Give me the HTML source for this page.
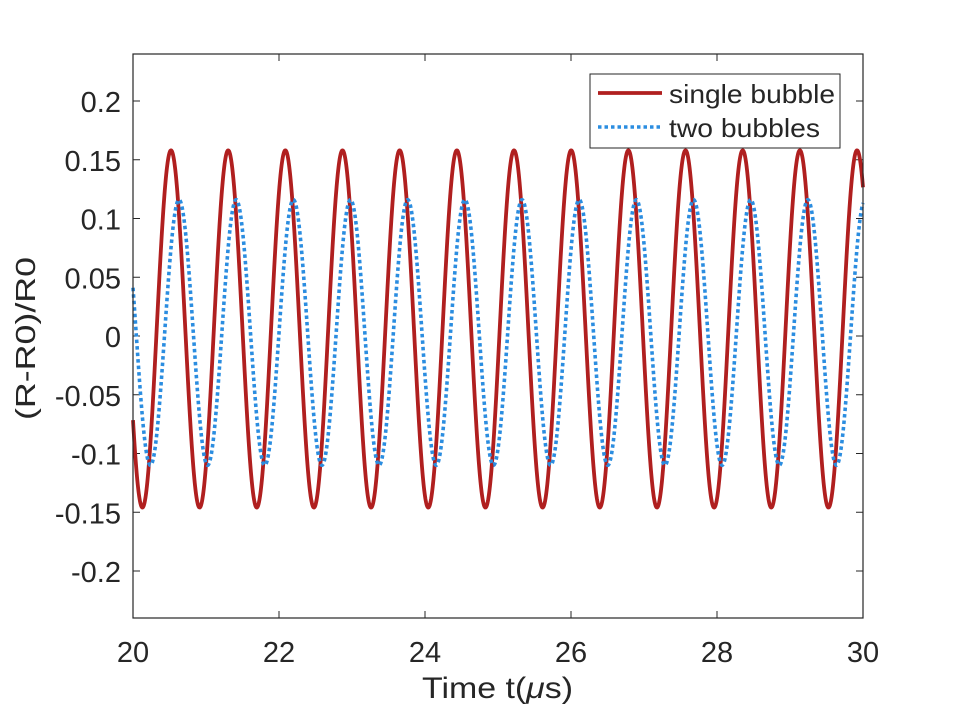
<!DOCTYPE html>
<html><head><meta charset="utf-8"><style>
body{margin:0;background:#fff;}
svg text{font-family:"Liberation Sans",Arial,sans-serif;fill:#262626;}
</style></head><body>
<svg id="s" width="953" height="715" xmlns="http://www.w3.org/2000/svg">
<rect width="953" height="715" fill="#fff"/>
<g id="ticks"></g>
<path id="red" fill="none" stroke="#b01f1f" stroke-width="3.8" stroke-linejoin="round"/>
<path id="blue" fill="none" stroke="#2b8de0" stroke-width="3.6" stroke-dasharray="3.5 3"/>
<rect x="133" y="54" width="730" height="564" fill="none" stroke="#262626" stroke-width="1.2"/>
<g font-size="29" text-anchor="end" id="yl"></g>
<g font-size="29" text-anchor="middle" id="xl"></g>
<text x="422" y="698" font-size="30" textLength="151" lengthAdjust="spacingAndGlyphs">Time t(<tspan font-style="italic">μ</tspan>s)</text>
<text transform="translate(35,420) rotate(-90)" font-size="28" textLength="163" lengthAdjust="spacingAndGlyphs">(R-R0)/R0</text>
<rect x="590" y="74" width="250" height="74" fill="#fff" stroke="#262626" stroke-width="1"/>
<line x1="598" y1="93" x2="662" y2="93" stroke="#b01f1f" stroke-width="3.8"/>
<line x1="598" y1="127" x2="662" y2="127" stroke="#2b8de0" stroke-width="3.6" stroke-dasharray="3.5 3"/>
<text x="669" y="103" font-size="26" textLength="166" lengthAdjust="spacingAndGlyphs">single bubble</text>
<text x="669" y="137" font-size="26" textLength="151" lengthAdjust="spacingAndGlyphs">two bubbles</text>
</svg>
<script>
const X=t=>133+(t-20)*73, Y=v=>336-v*1175;
let r="",b="";
const P=57.17/73;
for(let i=0;i<=2000;i++){const t=20+10*i/2000;
 const vr=0.006+0.152*Math.cos(2*Math.PI*(t-(20+38/73))/P);
 const vb=0.003+0.113*Math.cos(2*Math.PI*(t-(20+46/73))/P);
 r+=(i?"L":"M")+X(t).toFixed(2)+" "+Y(vr).toFixed(2);
 b+=(i?"L":"M")+X(t).toFixed(2)+" "+Y(vb).toFixed(2);}
document.getElementById("red").setAttribute("d",r);
document.getElementById("blue").setAttribute("d",b);
let tk="",yl="",xl="";
for(let k=-4;k<=4;k++){const v=k*0.05,y=Y(v);
 tk+=`<line x1="133" y1="${y}" x2="140" y2="${y}" stroke="#262626"/><line x1="863" y1="${y}" x2="856" y2="${y}" stroke="#262626"/>`;
 let s=(Math.round(v*100)/100).toString();
 yl+=`<text x="121" y="${y+11}">${s}</text>`;}
for(let t=20;t<=30;t+=2){const x=X(t);
 tk+=`<line x1="${x}" y1="618" x2="${x}" y2="611" stroke="#262626"/><line x1="${x}" y1="54" x2="${x}" y2="61" stroke="#262626"/>`;
 xl+=`<text x="${x}" y="662">${t}</text>`;}
document.getElementById("ticks").innerHTML=tk;
document.getElementById("yl").innerHTML=yl;
document.getElementById("xl").innerHTML=xl;
</script>
</body></html>
